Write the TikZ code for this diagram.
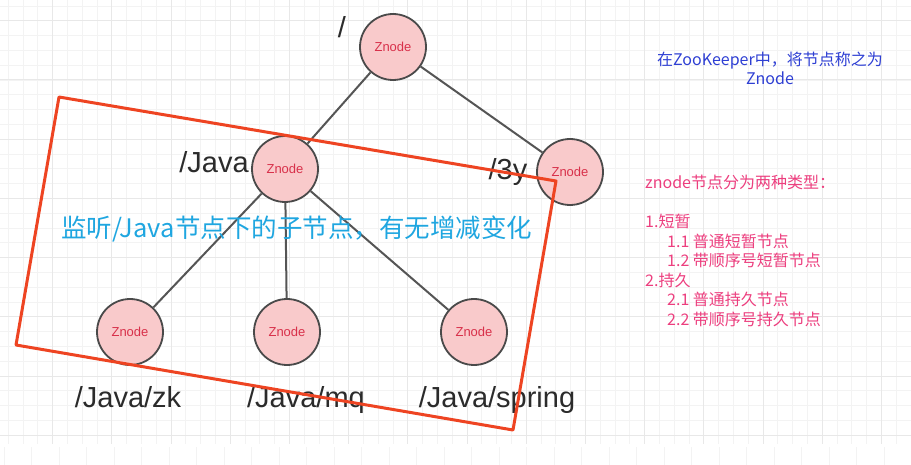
\documentclass[tikz,border=0pt]{standalone}
\usepackage{fontspec}
\setmainfont{Liberation Sans}
\newfontfamily\cjk{Noto Sans CJK SC}
\definecolor{gridminor}{HTML}{F3F3F3}
\definecolor{gridmajor}{HTML}{E8E8E8}
\definecolor{nodefill}{HTML}{F9CACB}
\definecolor{nodeline}{HTML}{4A4A4A}
\definecolor{nodetext}{HTML}{D8304A}
\definecolor{edgegray}{HTML}{555555}
\definecolor{labeltext}{HTML}{2B2B2B}
\definecolor{boxred}{HTML}{EE4422}
\definecolor{watchblue}{HTML}{1FA6E0}
\definecolor{titleblue}{HTML}{2E3FD3}
\definecolor{listpink}{HTML}{EC3E7E}

\begin{document}
\begin{tikzpicture}[x=1pt, y=-1pt,
  znode/.style={circle, draw=nodeline, line width=1.8pt, fill=nodefill, minimum size=66pt, inner sep=0pt,
    font=\fontsize{13}{13}\selectfont, text=nodetext},
  pathlbl/.style={font=\fontsize{29}{29}\selectfont, text=labeltext, anchor=base, inner sep=0pt},
  treeedge/.style={draw=edgegray, line width=2pt},
  watchbox/.style={draw=boxred, line width=3pt, line join=round}
]
\useasboundingbox (0,0) rectangle (911,465);

% background grid
\foreach \gx in {8.2,23.0,...,911} \draw[gridminor, line width=0.8pt] (\gx,0) -- (\gx,444);
\foreach \gy in {6.0,20.8,...,444} \draw[gridminor, line width=0.8pt] (0,\gy) -- (911,\gy);
\foreach \gx in {52.6,111.8,...,911} \draw[gridmajor, line width=1pt] (\gx,0) -- (\gx,444);
\foreach \gy in {20.8,80.0,...,444} \draw[gridmajor, line width=1pt] (0,\gy) -- (911,\gy);
\foreach \gx in {4,31.5,...,911} \draw[gridminor, line width=0.8pt] (\gx,447) -- (\gx,465);

% tree
\node[znode] (root) at (393,47) {Znode};
\node[znode] (java) at (285,169) {Znode};
\node[znode] (threey) at (570,172) {Znode};
\node[znode] (zk) at (130,332) {Znode};
\node[znode] (mq) at (287,332) {Znode};
\node[znode] (spring) at (474,332) {Znode};

\draw[treeedge] (root) -- (java);
\draw[treeedge] (root) -- (threey);
\draw[treeedge] (java) -- (zk);
\draw[treeedge] (java) -- (mq);
\draw[treeedge] (java) -- (spring);

\node[pathlbl] (rootlbl) at (342,38) {/};
\node[pathlbl] (javalbl) at (214,173) {/Java};
\node[pathlbl] (threeylbl) at (508,180) {/3y};
\node[pathlbl] (zklbl) at (128,407) {/Java/zk};
\node[pathlbl] (mqlbl) at (306,407) {/Java/mq};
\node[pathlbl] (springlbl) at (497,407) {/Java/spring};

% watched part
\node[text=watchblue, font=\cjk\fontsize{25.5}{25.5}\selectfont, anchor=west, inner sep=0pt] (watchlbl) at (61,229)
  {监听/Java节点下的子节点，有无增减变化};
\draw[watchbox] (59,97) -- (556,181) -- (513,430) -- (16,345) -- cycle;

% notes on the right
\node[text=titleblue, font=\cjk\fontsize{16}{19}\selectfont, align=center, anchor=north, inner sep=0pt] (title) at (770,52)
  {在ZooKeeper中，将节点称之为\\Znode};
\node[text=listpink, font=\cjk\fontsize{16}{19.5}\selectfont, align=left, anchor=north west, inner sep=0pt] (types) at (645,175)
  {znode节点分为两种类型：\\[19.5pt]
   1.短暂\\
   \hspace*{22pt}1.1 普通短暂节点\\
   \hspace*{22pt}1.2 带顺序号短暂节点\\
   2.持久\\
   \hspace*{22pt}2.1 普通持久节点\\
   \hspace*{22pt}2.2 带顺序号持久节点};
\end{tikzpicture}
\end{document}
